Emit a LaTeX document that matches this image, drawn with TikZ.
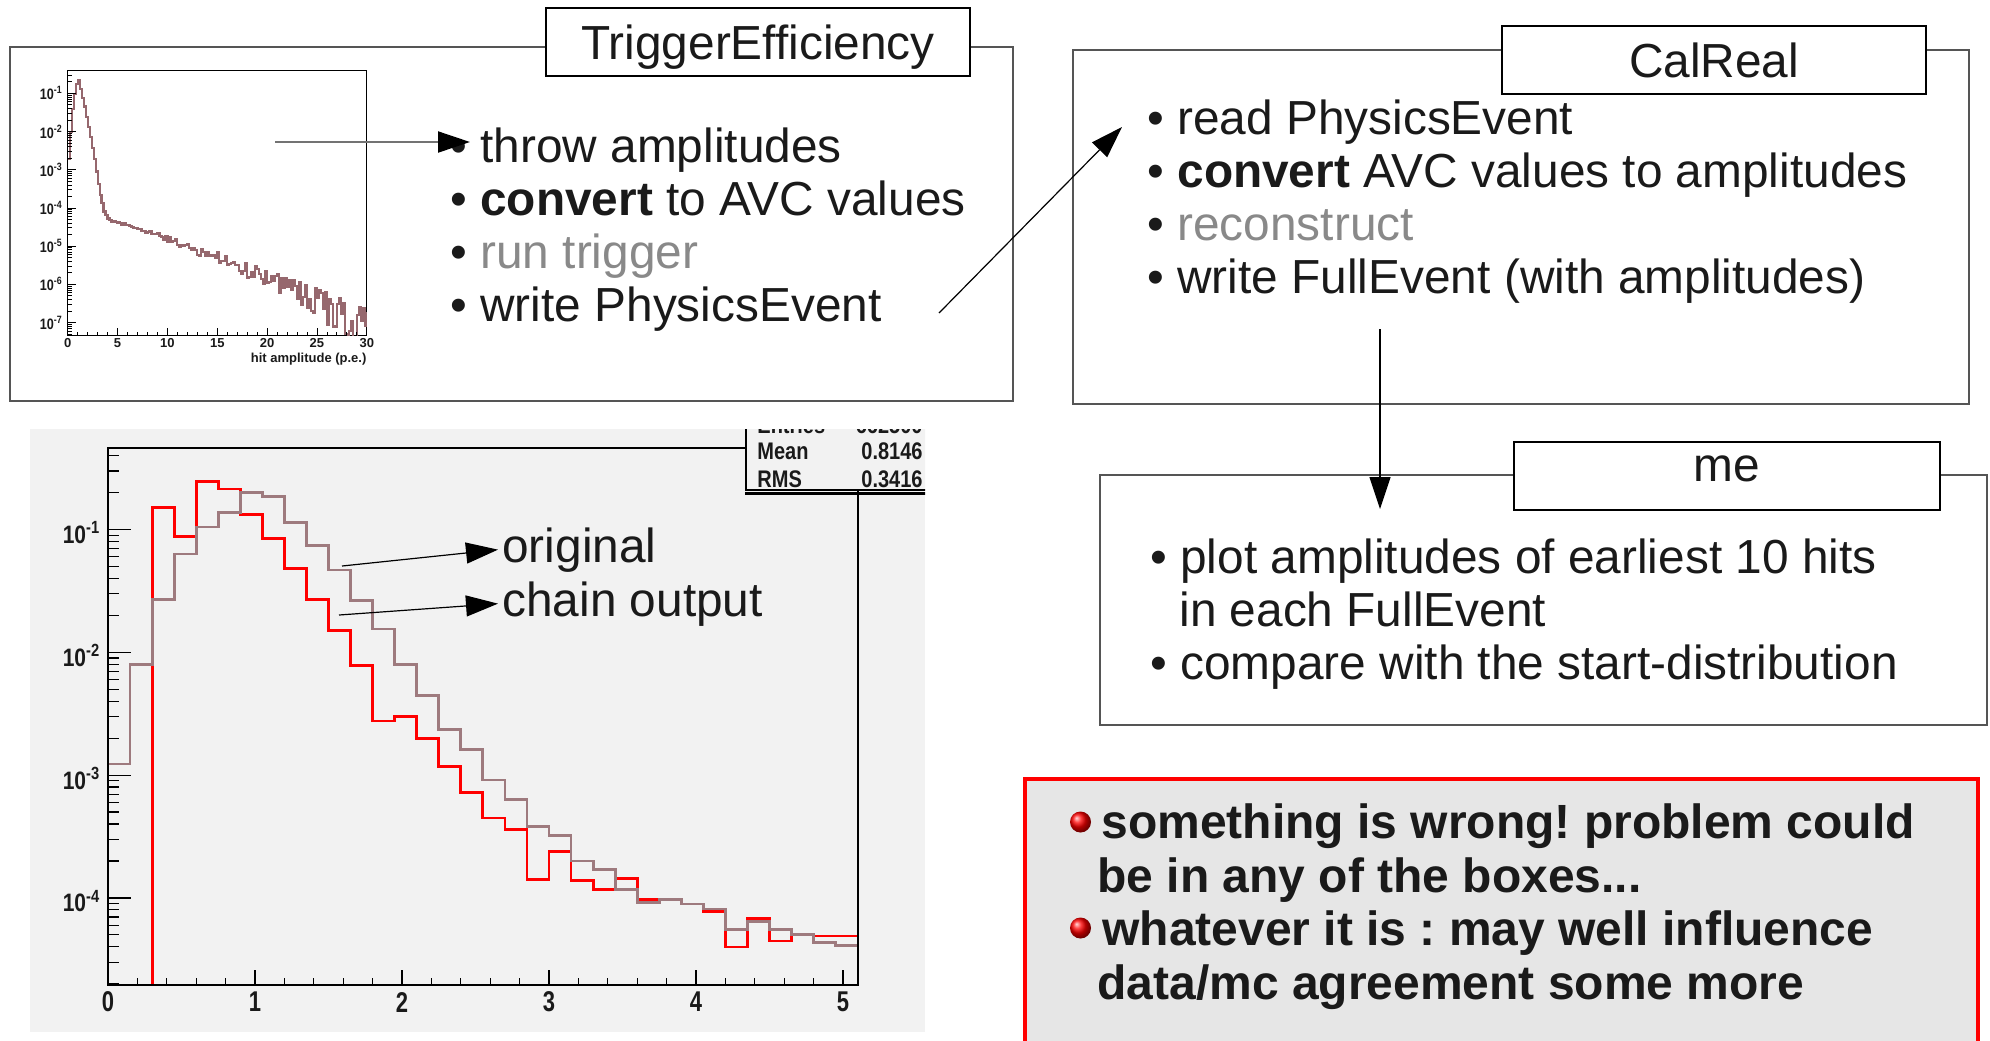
\documentclass[tikz,border=0pt]{standalone}
\usepackage{fontspec}
\setmainfont{Liberation Sans}
\usetikzlibrary{arrows.meta, positioning, calc}
\frenchspacing

\definecolor{ink}{HTML}{1A1A1A}
\definecolor{faded}{HTML}{898989}
\definecolor{boxline}{HTML}{555555}
\definecolor{histgray}{RGB}{158,122,126}
\definecolor{histdark}{RGB}{150,104,110}
\definecolor{plotbg}{HTML}{F2F2F2}
\definecolor{notebg}{HTML}{E6E6E6}

\newcommand{\slidefont}{\fontsize{23.9pt}{27pt}\selectfont}
\newcommand{\rootlabel}[1]{\scalebox{1}[1.2]{#1}}

\begin{document}
\begin{tikzpicture}[
      x=0.5pt, y=-0.5pt,
      every node/.style={inner sep=0pt, text=ink},
      stage/.style={draw=boxline, line width=1pt, fill=white},
      stagename/.style={draw=black, line width=1pt, fill=white, minimum height=34pt,
        text height=17pt, text depth=0pt, font=\slidefont},
      item/.style={anchor=base west, font=\slidefont},
      note/.style={anchor=base west, font=\fontsize{24pt}{27pt}\selectfont\bfseries},
      tag/.style={anchor=base west, inner sep=2pt, font=\slidefont},
      link/.style={-{Triangle[length=16pt, width=10.5pt, color=black]}, line width=0.6pt},
      redball/.style={circle, minimum size=10.5pt, shade, ball color=red},
      tick/.style={line width=0.6pt},
      declare function={
        core(\t)=ifthenelse(\t<1, -0.67-2.07*(1-\t)*(1-\t), -0.67-1.03*(\t-1)-0.17*(\t-1)*(\t-1));
        tail(\t)=-4.0-0.07*\t-0.0012*\t*\t;
        spread(\t)=0.02+0.0006*\t*\t;
      }
    ]
      \useasboundingbox (0,0) rectangle (1990,1040);

      % TriggerEfficiency
      \node[stage, minimum width=501.5pt, minimum height=177pt] (teBox) at (511.5,224) {};
      \node[stagename, minimum width=212pt] (teName) at (758,42) {TriggerEfficiency};

      % thrown amplitude spectrum
      \begin{scope}[shift={(67.7,93.3)}, x=4.985pt, y=19.1pt]
        \draw[line width=0.5pt] (0,0.59) rectangle (30,-6.35);
        \begin{scope}
          \clip (0,0.59) rectangle (30,-6.35);
          \pgfmathsetseed{17}
          \draw[histdark, line width=1.1pt] plot[const plot, domain=0:30, samples=151]
            (\x, {max(core(\x),tail(\x)) + log10(1+10^(-min(abs(core(\x)-tail(\x)),5))) + spread(\x)*rand + 1});
          \foreach \d in {-8,...,-1}
            \foreach \m in {1,...,9} {
              \pgfmathsetmacro\tl{\m==1 ? 0.8 : 0.4}
              \draw[tick, line width=0.4pt] (0,{\d+1+log10(\m)}) -- ++(\tl,0);
            }
          \foreach \i in {1,...,29} {
            \pgfmathsetmacro\tl{mod(\i,5)==0 ? 0.21 : 0.1}
            \draw[tick, line width=0.4pt] (\i,-6.35) -- (\i,{-6.35+\tl});
          }
        \end{scope}
        \foreach \d in {-7,...,-1}
          \node[anchor=east, font=\bfseries\fontsize{6.3pt}{7pt}\selectfont] (teY\d) at (-0.45,\d+1) {\rootlabel{10\textsuperscript{\d}}};
        \foreach \i in {0,5,...,30}
          \node[font=\bfseries\fontsize{6.5pt}{7pt}\selectfont] (teX\i) at (\i,-6.55) {\i};
        \node[anchor=east, font=\bfseries\fontsize{6.5pt}{7pt}\selectfont] (teXlabel) at (30,-6.97) {hit amplitude (p.e.)};
      \end{scope}

      \node[item] (teThrow) at (450,162) {• throw amplitudes};
      \node[item] (teConvert) at (450,215) {• \textbf{convert} to AVC values};
      \node[item] (teTrigger) at (450,268) {• \textcolor{faded}{run trigger}};
      \node[item] (teWrite) at (450,321) {• write PhysicsEvent};

      % CalReal
      \node[stage, minimum width=448pt, minimum height=177pt] (crBox) at (1521,227) {};
      \node[stagename, minimum width=212pt] (crName) at (1714,60) {CalReal};
      \node[item] (crRead) at (1147,134) {• read PhysicsEvent};
      \node[item] (crConvert) at (1147,187) {• \textbf{convert} AVC values to amplitudes};
      \node[item] (crReco) at (1147,240) {• \textcolor{faded}{reconstruct}};
      \node[item] (crWrite) at (1147,293) {• write FullEvent (with amplitudes)};

      % me
      \node[stage, minimum width=443.5pt, minimum height=125pt] (meBox) at (1543.5,600) {};
      \node[stagename, minimum width=213pt, text height=11pt, text depth=6pt] (meName) at (1727,476) {me};
      \node[item] (mePlot) at (1150,573) {• plot amplitudes of earliest 10 hits};
      \node[item] (mePlotCont) at (1179,626) {in each FullEvent};
      \node[item] (meCompare) at (1150,679) {• compare with the start-distribution};

      % conclusion
      \node[draw=red, line width=2pt, fill=notebg, minimum width=476.5pt, minimum height=150pt,
        anchor=north west] (noteBox) at (1023,777) {};
      \node[redball] (noteDot1) at (1080.5,822) {};
      \node[redball] (noteDot2) at (1080.5,928) {};
      \node[note] (noteA) at (1101,838) {something is wrong! problem could};
      \node[note] (noteB) at (1097,892) {be in any of the boxes...};
      \node[note] (noteC) at (1102,945) {whatever it is : may well influence};
      \node[note] (noteD) at (1097,999) {data/mc agreement some more};

      % comparison plot
      \begin{scope}
        \clip (30,429) rectangle (925,1032);
        \fill[plotbg] (30,429) rectangle (925,1032);
        \begin{scope}[shift={(108,529.5)}, x=73.5pt, y=61.4pt]
          \begin{scope}
            \clip (0,0.664) rectangle (5.1,-3.709);
            \draw[red, line width=1.4pt] plot[const plot] coordinates {
              (0,-3.709) (0.15,-3.709) (0.3,0.18) (0.45,-0.06) (0.6,0.39) (0.75,0.33)
              (0.9,0.12) (1.05,-0.07) (1.2,-0.32) (1.35,-0.57) (1.5,-0.82) (1.65,-1.11)
              (1.8,-1.56) (1.95,-1.52) (2.1,-1.70) (2.25,-1.93) (2.4,-2.14) (2.55,-2.35)
              (2.7,-2.44) (2.85,-2.85) (3.0,-2.62) (3.15,-2.86) (3.3,-2.93) (3.45,-2.84)
              (3.6,-3.01) (3.75,-3.01) (3.9,-3.05) (4.05,-3.11) (4.2,-3.40) (4.35,-3.17)
              (4.5,-3.35) (4.65,-3.30) (4.8,-3.31) (4.95,-3.31) (5.1,-3.31)};
            \draw[histgray, line width=1.4pt] plot[const plot] coordinates {
              (0,-1.91) (0.15,-1.10) (0.3,-0.57) (0.45,-0.20) (0.6,0.02) (0.75,0.14)
              (0.9,0.30) (1.05,0.27) (1.2,0.06) (1.35,-0.13) (1.5,-0.33) (1.65,-0.58)
              (1.8,-0.81) (1.95,-1.10) (2.1,-1.35) (2.25,-1.63) (2.4,-1.79) (2.55,-2.04)
              (2.7,-2.20) (2.85,-2.42) (3.0,-2.49) (3.15,-2.70) (3.3,-2.77) (3.45,-2.93)
              (3.6,-3.04) (3.75,-3.01) (3.9,-3.05) (4.05,-3.09) (4.2,-3.26) (4.35,-3.19)
              (4.5,-3.26) (4.65,-3.30) (4.8,-3.36) (4.95,-3.39) (5.1,-3.39)};
            \foreach \d in {-5,...,0}
              \foreach \m in {1,...,9} {
                \pgfmathsetmacro\tl{\m==1 ? 0.156 : 0.075}
                \draw[tick] (0,{\d+log10(\m)}) -- ++(\tl,0);
              }
            \foreach \i in {1,...,25} {
              \pgfmathsetmacro\tl{mod(\i,5)==0 ? 0.122 : 0.057}
              \draw[tick] ({\i*0.2},-3.709) -- ({\i*0.2},{-3.709+\tl});
            }
          \end{scope}
          \draw[line width=1pt] (0,0.664) rectangle (5.1,-3.709);
          \foreach \d in {-4,...,-1}
            \node[anchor=base east, font=\bfseries\fontsize{10.5pt}{12pt}\selectfont] (cmpY\d) at (-0.05,\d+0.886) {\rootlabel{10\textsuperscript{\d}}};
          \foreach \i in {0,...,5}
            \node[font=\bfseries\fontsize{11pt}{12pt}\selectfont] (cmpX\i) at (\i,-3.848) {\scalebox{1}[1.3]{\i}};
        \end{scope}
        \node[draw=black, line width=0.8pt, fill=plotbg, minimum width=110pt, minimum height=70pt,
          anchor=south west] (stats) at (745,491) {};
        \draw[line width=1.2pt] ([yshift=-1.2pt]stats.south west) -- ([yshift=-1.2pt]stats.south east);
        \node[anchor=base west, font=\bfseries\fontsize{10pt}{12pt}\selectfont] (statsN) at (757,433) {\rootlabel{Entries}};
        \node[anchor=base east, font=\bfseries\fontsize{10pt}{12pt}\selectfont] (statsNv) at (923,433) {\rootlabel{662500}};
        \node[anchor=base west, font=\bfseries\fontsize{10pt}{12pt}\selectfont] (statsM) at (757,459) {\rootlabel{Mean}};
        \node[anchor=base east, font=\bfseries\fontsize{10pt}{12pt}\selectfont] (statsMv) at (923,459) {\rootlabel{0.8146}};
        \node[anchor=base west, font=\bfseries\fontsize{10pt}{12pt}\selectfont] (statsR) at (757,487) {\rootlabel{RMS}};
        \node[anchor=base east, font=\bfseries\fontsize{10pt}{12pt}\selectfont] (statsRv) at (923,487) {\rootlabel{0.3416}};
      \end{scope}

      \node[tag] (orig) at (498,562) {original};
      \node[tag] (chain) at (498,616) {chain output};

      % connectors
      \coordinate (teSrc) at (275,142);
      \coordinate (teDst) at (470,142);
      \coordinate (peOut) at (939,313);
      \coordinate (peIn) at (1122,127);
      \coordinate (feOut) at (1380,329);
      \coordinate (feIn) at (1380,509);
      \coordinate (origSrc) at (342,566);
      \coordinate (chainSrc) at (339,615);
      \draw[link, draw=black!55, line width=1pt] (teSrc) -- (teDst);
      \draw[link] (peOut) -- (peIn);
      \draw[link] (feOut) -- (feIn);
      \draw[link] (origSrc) -- (orig.west);
      \draw[link] (chainSrc) -- (chain.west);
    \end{tikzpicture}
\end{document}
